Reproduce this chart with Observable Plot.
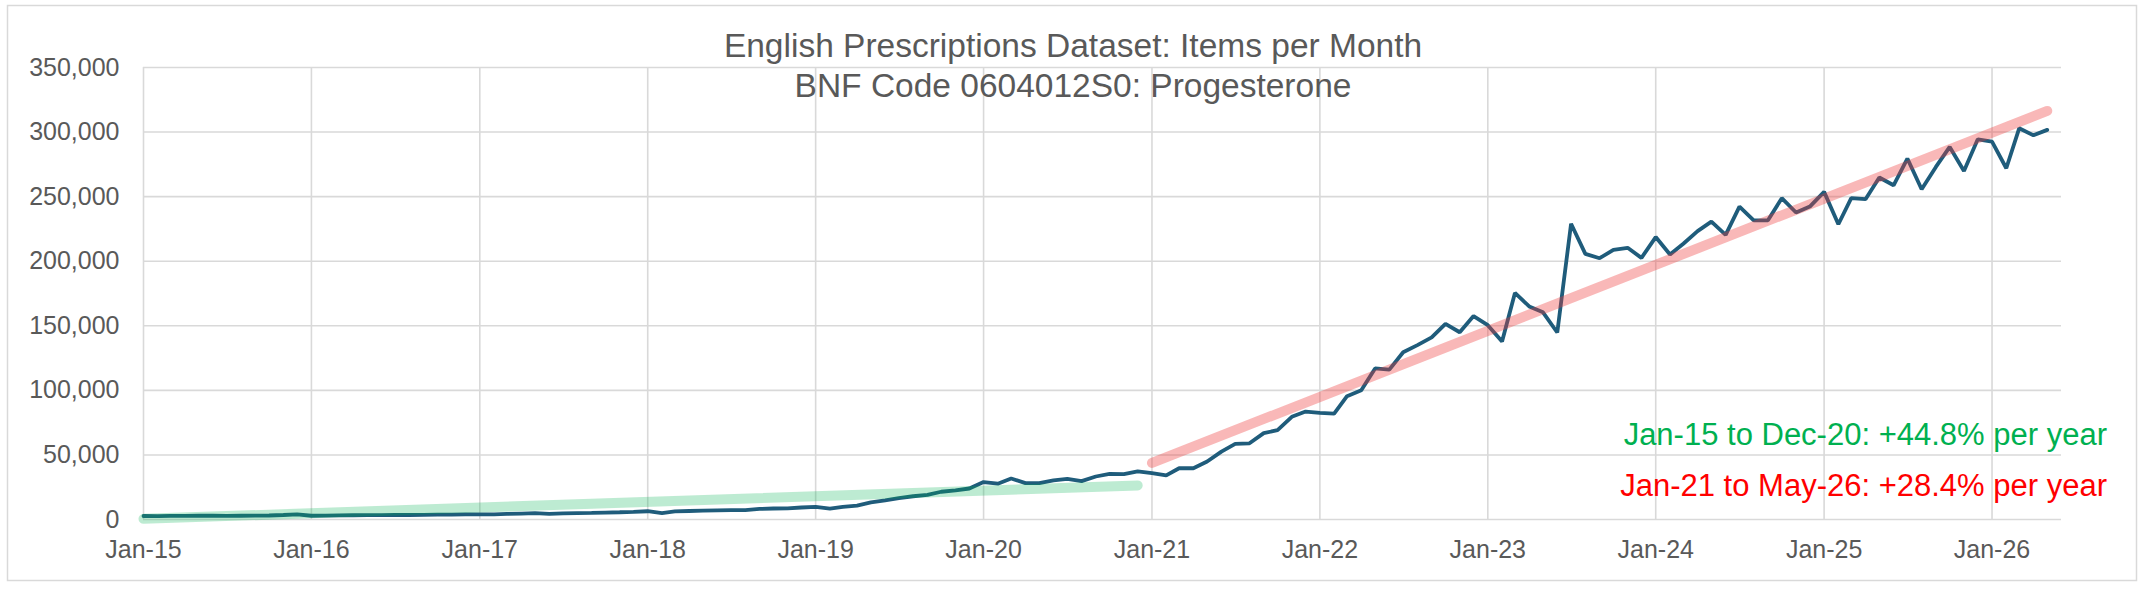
<!DOCTYPE html>
<html>
<head>
<meta charset="utf-8">
<script src="https://cdn.jsdelivr.net/npm/d3@7"></script>
<script src="https://cdn.jsdelivr.net/npm/@observablehq/plot@0.6"></script>
<style>
  html, body { margin: 0; padding: 0; background: #ffffff; }
  #chart { width: 2144px; height: 589px; }
</style>
</head>
<body>
<div id="chart"></div>
<script>
// ---- Data (monthly items) ----
const firstMonth = "2015-01";
const items2015 = [2700, 2600, 2800, 2800, 2900, 2900, 2800, 2900, 3000, 3100, 3500, 3900];
const items2016 = [2900, 3000, 3200, 3300, 3400, 3400, 3500, 3500, 3600, 3700, 3800, 3900];
const items2017 = [3900, 4000, 4300, 4600, 4900, 4400, 4800, 5000, 5200, 5400, 5600, 5900];
const items2018 = [6400, 5000, 6300, 6600, 6800, 7000, 7200, 7300, 8200, 8500, 8600, 9300];
const items2019 = [9700, 8500, 9800, 10800, 13200, 14800, 16500, 18000, 19000, 21500, 22500, 24000];
const items2020 = [29000, 27700, 31800, 28200, 28200, 30300, 31500, 29700, 33300, 35400, 35100, 37200];
const items2021 = [35900, 34100, 39700, 39700, 44900, 52600, 58500, 59000, 66900, 69200, 79500, 83600];
const items2022 = [82500, 82000, 95500, 100000, 117000, 116000, 129500, 135000, 141000, 151500, 145000, 157500];
const items2023 = [150500, 137800, 175400, 165000, 160400, 144800, 229000, 205700, 202300, 208800, 210400, 202600];
const items2024 = [218700, 205200, 213500, 223300, 230700, 220400, 242300, 231700, 231700, 248800, 237700, 242300];
const items2025 = [253700, 228600, 248800, 248000, 264800, 258800, 279500, 255700, 273000, 288500, 269900, 294400];
const items2026 = [292600, 272000, 302900, 297500, 301700];

// Trend lines (end points)
const greenTrendMonths = ["2015-01", "2020-12"];
const greenTrendValues = [500, 26400];
const redTrendMonths = ["2021-01", "2026-05"];
const redTrendValues = [43800, 316400];

// Axis ticks
const xTickMonths = ["2015-01","2016-01","2017-01","2018-01","2019-01","2020-01","2021-01","2022-01","2023-01","2024-01","2025-01","2026-01"];
const yTickValues = [0, 50000, 100000, 150000, 200000, 250000, 300000, 350000];
const xDomainMonths = ["2015-01", "2026-06"];

const titleLines = ["English Prescriptions Dataset: Items per Month", "BNF Code 0604012S0: Progesterone"];
const noteGreen = "Jan-15 to Dec-20: +44.8% per year";
const noteRed = "Jan-21 to May-26: +28.4% per year";

// ---- Build table ----
const parseMonth = d3.utcParse("%Y-%m");
const allItems = [].concat(items2015, items2016, items2017, items2018, items2019, items2020,
                           items2021, items2022, items2023, items2024, items2025, items2026);
const start = parseMonth(firstMonth);
const series = allItems.map((v, i) => ({ date: d3.utcMonth.offset(start, i), value: v }));
const greenTrend = greenTrendMonths.map((m, i) => ({ date: parseMonth(m), value: greenTrendValues[i] }));
const redTrend = redTrendMonths.map((m, i) => ({ date: parseMonth(m), value: redTrendValues[i] }));
const xTicks = xTickMonths.map(parseMonth);

const font = "'Liberation Sans', Arial, sans-serif";
const textColor = "#595959";
const gridColor = "#d9d9d9";

const chart = Plot.plot({
  width: 2144,
  height: 589,
  marginLeft: 143,
  marginRight: 83,
  marginTop: 67,
  marginBottom: 70,
  x: { type: "utc", domain: xDomainMonths.map(parseMonth) },
  y: { domain: [0, 350000] },
  style: { fontFamily: font, fontSize: "25px", color: textColor, background: "#ffffff", overflow: "visible" },
  marks: [
    Plot.gridY(yTickValues, { stroke: gridColor, strokeOpacity: 1, strokeWidth: 1.6 }),
    Plot.gridX(xTicks, { stroke: gridColor, strokeOpacity: 1, strokeWidth: 1.6 }),
    Plot.axisY(yTickValues, { tickSize: 0, tickPadding: 24, tickFormat: d3.format(","), label: null, fill: textColor, fontSize: 25 }),
    Plot.axisX(xTicks, { tickSize: 0, tickPadding: 21, tickFormat: d3.utcFormat("%b-%y"), label: null, fill: textColor, fontSize: 25 }),
    Plot.line(series, { x: "date", y: "value", stroke: "#1F5C7B", strokeWidth: 3.8, strokeLinejoin: "miter" }),
    Plot.line(greenTrend, { x: "date", y: "value", stroke: "#00B050", strokeOpacity: 0.26, strokeWidth: 10, strokeLinecap: "round" }),
    Plot.line(redTrend, { x: "date", y: "value", stroke: "#ee3b3b", strokeOpacity: 0.36, strokeWidth: 10, strokeLinecap: "round" })
  ]
});

document.getElementById("chart").appendChild(chart);

// ---- Decorations: border, title, notes ----
const svg = d3.select(chart);
svg.insert("rect", ":first-child")
  .attr("x", 7.5).attr("y", 5.5).attr("width", 2129).attr("height", 575)
  .attr("fill", "#ffffff").attr("stroke", gridColor).attr("stroke-width", 1.5);

const title = svg.append("text")
  .attr("text-anchor", "middle")
  .attr("fill", textColor)
  .style("font-family", font)
  .style("font-size", "33.5px");
title.selectAll("tspan").data(titleLines).join("tspan")
  .attr("x", 1073)
  .attr("y", (d, i) => 57 + i * 40)
  .text(d => d);

svg.append("text")
  .attr("x", 2107).attr("y", 445)
  .attr("text-anchor", "end")
  .attr("fill", "#00B050")
  .style("font-family", font).style("font-size", "31px")
  .text(noteGreen);

svg.append("text")
  .attr("x", 2107).attr("y", 496)
  .attr("text-anchor", "end")
  .attr("fill", "#FF0000")
  .style("font-family", font).style("font-size", "31px")
  .text(noteRed);
</script>
</body>
</html>
